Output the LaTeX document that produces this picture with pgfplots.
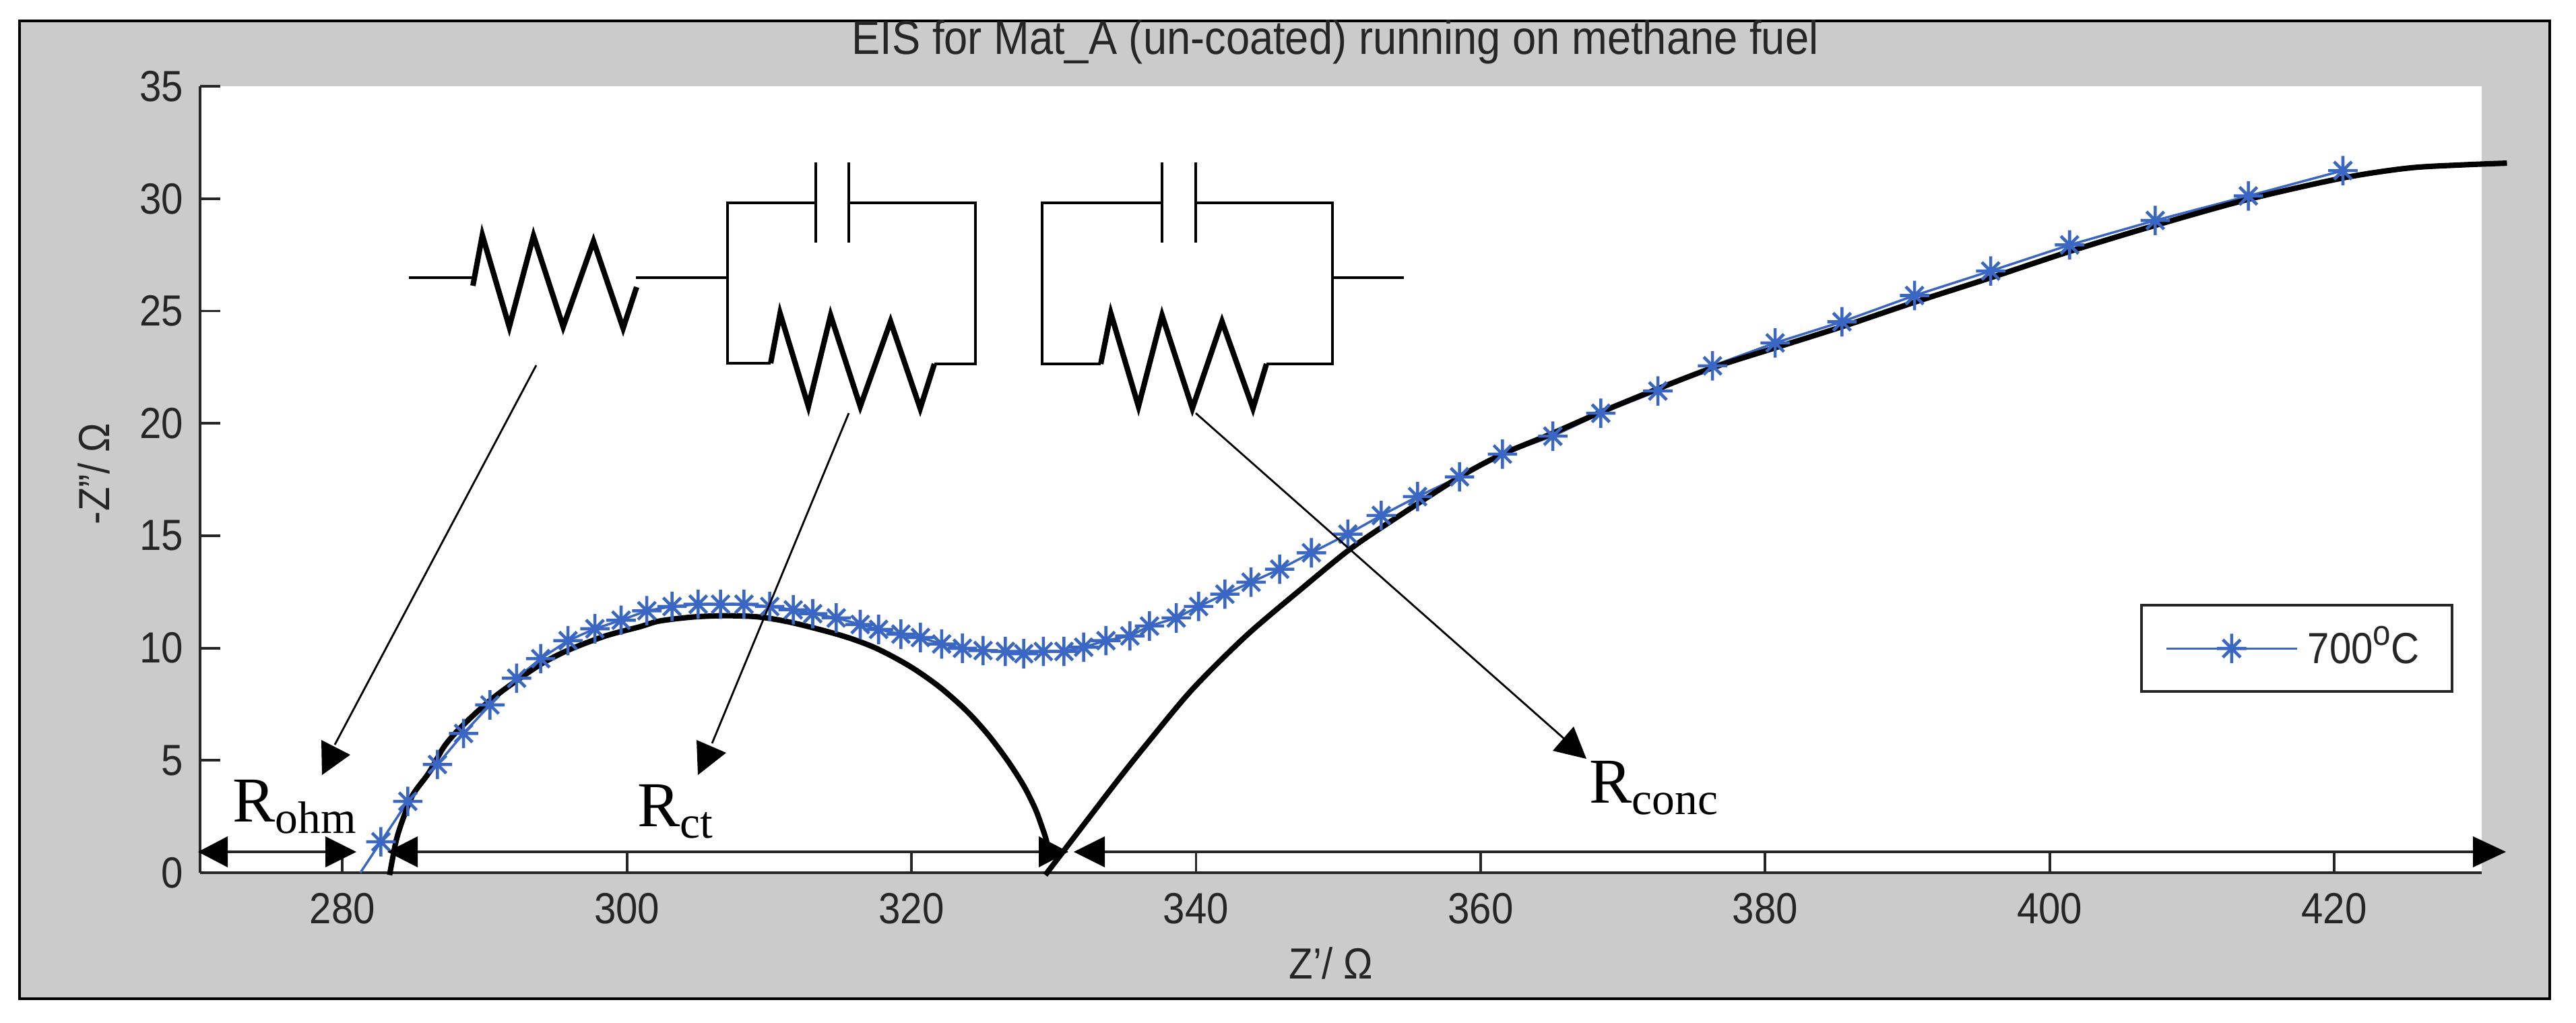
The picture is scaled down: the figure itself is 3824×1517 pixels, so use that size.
\documentclass[border=0pt]{standalone}
\usepackage{fontspec}
\setmainfont{Liberation Sans}[FakeStretch=0.9]
\newfontfamily\timesf{Liberation Serif}
\usepackage{pgfplots}
\pgfplotsset{compat=1.18}
\definecolor{figgray}{HTML}{CBCBCB}
\definecolor{eisblue}{HTML}{3A66C4}
\definecolor{axdark}{HTML}{262626}
\newcommand{\lab}{\fontsize{9.2}{11}\selectfont}
% R with a lowered subscript, Times-like
\newcommand{\Rsub}[2]{{\timesf\fontsize{13.5}{15}\selectfont R\raisebox{-#2}{\fontsize{9.6}{10}\selectfont #1}}}
% eight-armed MATLAB style asterisk
\pgfdeclareplotmark{ast8}{%
 \pgfpathmoveto{\pgfpoint{0pt}{\pgfplotmarksize}}\pgfpathlineto{\pgfpoint{0pt}{-\pgfplotmarksize}}%
 \pgfpathmoveto{\pgfpoint{\pgfplotmarksize}{0pt}}\pgfpathlineto{\pgfpoint{-\pgfplotmarksize}{0pt}}%
 \pgfpathmoveto{\pgfpoint{0.6\pgfplotmarksize}{0.6\pgfplotmarksize}}\pgfpathlineto{\pgfpoint{-0.6\pgfplotmarksize}{-0.6\pgfplotmarksize}}%
 \pgfpathmoveto{\pgfpoint{0.6\pgfplotmarksize}{-0.6\pgfplotmarksize}}\pgfpathlineto{\pgfpoint{-0.6\pgfplotmarksize}{0.6\pgfplotmarksize}}%
 \pgfusepathqstroke}
\begin{document}
% 1 unit = 1 pixel of the reference
\begin{tikzpicture}[x=0.05mm,y=-0.05mm]
\path[use as bounding box] (0,0) rectangle (3824,1517);
\fill[figgray] (29,31) rectangle (3785,1482);
\draw[black,line width=0.6pt] (29,31) rectangle (3785,1482);
\begin{axis}[
    at={(14.85mm,-64.75mm)}, anchor=south west,
    scale only axis, width=169.325mm, height=58.35mm,
    xmin=270, xmax=430.35, ymin=0, ymax=35,
    axis x line=bottom, axis y line=left,
    axis line style={-,line width=0.65pt,color=axdark},
    axis background/.style={fill=white},
    xtick={280,300,...,420}, ytick={0,5,...,35},
    tick align=inside, major tick length=1.5mm,
    tick style={line width=0.55pt,color=axdark},
    tick label style={font=\lab,color=axdark,/pgf/number format/assume math mode=true},
    xticklabel style={yshift=-0.25mm},
    clip=false,
    legend style={at={(rel axis cs:0.9878,0.3419)},anchor=north east,draw=axdark,line width=0.6pt,font=\lab,text=axdark,inner xsep=1.75mm,inner ysep=0.85mm,cells={anchor=west}},
    legend image code/.code={\draw[mark repeat=2,mark phase=2,#1] plot coordinates {(0mm,0mm)(4.85mm,0mm)(9.7mm,0mm)};},
]
\addplot[color=eisblue,line width=0.5pt,mark=ast8,mark size=3.1pt,mark options={line width=0.65pt}] coordinates {
 (282.71,1.38) (284.60,3.18) (286.68,4.82) (288.52,6.20) (290.37,7.47) (292.25,8.66)
 (293.94,9.53) (295.86,10.33) (297.75,10.86) (299.59,11.24) (301.40,11.66) (303.17,11.85)
 (305.01,11.95) (306.58,11.95) (308.23,11.95) (310.04,11.85) (311.69,11.70) (313.06,11.53)
 (314.71,11.34) (316.40,11.05) (317.69,10.83) (319.26,10.62) (320.63,10.47) (322.12,10.18)
 (323.58,9.99) (325.03,9.89) (326.60,9.85) (327.89,9.75) (329.27,9.85) (330.72,9.85)
 (332.10,10.04) (333.67,10.33) (335.35,10.54) (336.73,10.98) (338.61,11.34) (340.18,11.85)
 (342.03,12.40) (343.87,12.93) (345.88,13.51) (348.11,14.24) (350.67,15.07) (353.02,15.90)
 (355.57,16.74) (358.52,17.62) (361.54,18.63) (365.08,19.43) (368.45,20.45) (372.46,21.44)
 (376.30,22.56) (380.70,23.58) (385.40,24.52) (390.50,25.69) (395.85,26.78) (401.40,27.94)
 (407.42,29.03) (413.96,30.12) (420.61,31.25)
};
\addlegendentry{700\raisebox{0.42em}{\fontsize{7.5}{8}\selectfont o}C}
% tail of the measured line down to the real axis
\addplot[forget plot,color=eisblue,line width=0.5pt] coordinates {(281.26,0) (282.71,1.38)};
% fitted arcs
\addplot[forget plot,black,line width=1.15pt,smooth] coordinates {
 (283.32,-0.10) (283.79,1.45) (284.35,2.55) (284.98,3.50) (286.08,4.45) (287.19,5.65)
 (288.45,6.55) (290.34,7.65) (292.24,8.55) (294.13,9.35) (296.03,9.95) (298.55,10.55)
 (300.92,10.95) (302.26,11.20) (304.60,11.38) (306.97,11.44) (309.32,11.38) (311.69,11.12)
 (315.12,10.55) (317.49,10.00) (319.86,9.20) (321.91,8.30) (323.80,7.25) (325.38,6.15)
 (326.80,4.95) (327.91,3.85) (328.70,2.85) (329.17,2.05) (329.48,1.45) (329.60,1.00)
};
\addplot[forget plot,black,line width=1.15pt,smooth] coordinates {
 (329.41,-0.10) (330.67,0.95) (332.48,2.45) (334.54,4.15) (336.43,5.65) (339.72,8.15)
 (343.53,10.55) (347.34,12.60) (350.82,14.40) (354.10,15.81) (358.54,17.62) (361.50,18.62)
 (364.84,19.50) (368.53,20.52) (372.46,21.54) (376.38,22.49) (380.70,23.36)
 (385.40,24.30) (390.50,25.39) (395.85,26.48) (401.40,27.65) (407.42,28.81) (413.96,29.97)
 (420.61,30.92) (425.20,31.36) (428.93,31.50) (432.14,31.58)
};
\end{axis}
% title and axis labels
\node[font=\fontsize{10}{12}\selectfont,color=axdark,anchor=base] at (1982,80) {EIS for Mat\_A (un-coated) running on methane fuel};
\node[font=\lab,color=axdark] at (1976,1429) {Z'/ Ω};
\node[font=\lab,color=axdark,rotate=90] at (139,703) {-Z''/ Ω};
% equivalent circuit
\begin{scope}[line width=0.5pt,black]
 \draw (607,412) -- (702,412);
 \draw (944,412) -- (1080,412);
 \draw (1080,412) -- (1080,301) -- (1211,301);
 \draw (1260,301) -- (1448,301) -- (1448,540) -- (1387,540);
 \draw (1080,412) -- (1080,539) -- (1144,539);
 \draw (1211,241) -- (1211,360);
 \draw (1260,241) -- (1260,360);
 \draw (1634,540) -- (1547,540) -- (1547,301) -- (1725,301);
 \draw (1775,301) -- (1978,301) -- (1978,540) -- (1880,540);
 \draw (1725,241) -- (1725,360);
 \draw (1775,241) -- (1775,360);
 \draw (1978,412) -- (2084,412);
\end{scope}
\begin{scope}[line width=1.15pt,black,miter limit=10]
 \draw (702,424) -- (716,349) -- (756,485) -- (792,350) -- (836,485) -- (881,358) -- (925,487) -- (945,426);
 \draw (1144,539) -- (1158,465) -- (1200,603) -- (1233,468) -- (1277,603) -- (1322,477) -- (1366,606) -- (1387,540);
 \draw (1634,540) -- (1649,465) -- (1690,603) -- (1725,468) -- (1770,606) -- (1814,477) -- (1860,606) -- (1880,540);
\end{scope}
% pointers
\draw[line width=0.4pt] (796,542) -- (497,1105);
\fill (477,1098) -- (520,1120) -- (478,1150) -- cycle;
\draw[line width=0.4pt] (1260,613) -- (1057,1103);
\fill (1034,1098) -- (1078,1117) -- (1036,1150) -- cycle;
\draw[line width=0.4pt] (1775,613) -- (2324,1098);
\fill (2336,1078) -- (2305,1114) -- (2355,1126) -- cycle;
% resistance spans on the real axis
\draw[line width=0.6pt,axdark] (338,1264) -- (483,1264);
\draw[line width=0.6pt,axdark] (620,1264) -- (1542,1264);
\draw[line width=0.6pt,axdark] (1640,1264) -- (3671,1264);
\fill (294,1264) -- (338,1241) -- (338,1287) -- cycle;
\fill (529,1264) -- (483,1241) -- (483,1287) -- cycle;
\fill (575,1264) -- (620,1241) -- (620,1287) -- cycle;
\fill (1586,1264) -- (1542,1241) -- (1542,1287) -- cycle;
\fill (1594,1264) -- (1640,1241) -- (1640,1287) -- cycle;
\fill (3720,1264) -- (3671,1241) -- (3671,1287) -- cycle;
\node[anchor=base west,inner sep=0pt] at (344,1219) {\Rsub{ohm}{0.85mm}};
\node[anchor=base west,inner sep=0pt] at (945,1226) {\Rsub{ct}{0.85mm}};
\node[anchor=base west,inner sep=0pt] at (2358,1191) {\Rsub{conc}{0.85mm}};
\end{tikzpicture}
\end{document}
